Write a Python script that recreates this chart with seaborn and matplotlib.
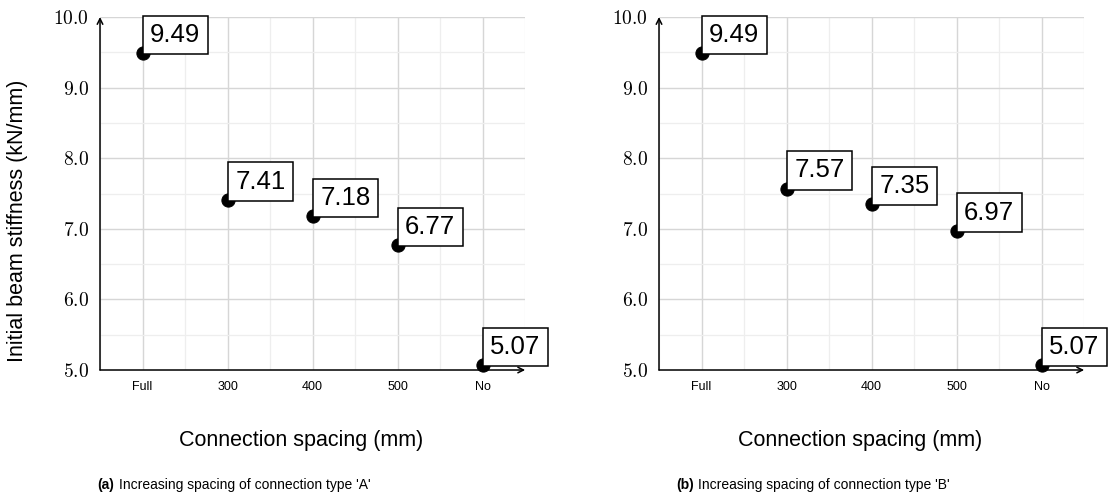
import matplotlib
matplotlib.use("Agg")
from matplotlib import pyplot as plt
from matplotlib.ticker import MultipleLocator, FixedLocator
import seaborn as sns
import pandas as pd

spacings = ["Full", "300", "400", "500", "No"]
stiffness_a = [9.49, 7.41, 7.18, 6.77, 5.07]
stiffness_b = [9.49, 7.57, 7.35, 6.97, 5.07]
captions = [("(a)", "Increasing spacing of connection type 'A'"),
            ("(b)", "Increasing spacing of connection type 'B'")]

sns.set_style("white")
plt.rcParams["font.family"] = ["Liberation Sans", "DejaVu Sans"]
plt.rcParams["mathtext.fontset"] = "cm"
plt.rcParams["text.color"] = "black"
plt.rcParams["xtick.labelcolor"] = "black"
plt.rcParams["ytick.labelcolor"] = "black"


def draw_panel(ax, values):
    df = pd.DataFrame({"spacing": spacings, "stiffness": values})
    sns.scatterplot(data=df, x="spacing", y="stiffness", ax=ax, color="black",
                    s=90, edgecolor="black", zorder=5, clip_on=False)
    ax.set_xlim(-0.5, len(spacings) - 0.5)
    ax.set_ylim(5.0, 10.0)

    ax.xaxis.set_major_locator(FixedLocator(range(len(spacings))))
    ax.set_xticklabels(spacings, fontsize=9)
    ax.xaxis.set_minor_locator(FixedLocator([i + 0.5 for i in range(-1, len(spacings))]))
    ax.yaxis.set_minor_locator(MultipleLocator(0.5))
    ax.set_yticks([5, 6, 7, 8, 9, 10])
    ax.set_yticklabels([f"${v:.1f}$" for v in [5, 6, 7, 8, 9, 10]], fontsize=14)

    ax.grid(which="major", color="#d6d6d6", linewidth=1.0)
    ax.grid(which="minor", color="#eeeeee", linewidth=0.9)
    ax.set_axisbelow(True)
    ax.tick_params(which="both", direction="inout", length=4, width=0.7,
                   color="#444444", pad=6)
    for side in ["top", "right", "left", "bottom"]:
        ax.spines[side].set_visible(False)

    # axis lines with arrow heads
    ax.annotate("", xy=(0, 1.0), xytext=(0, 0), xycoords="axes fraction",
                arrowprops=dict(arrowstyle="->", color="black", lw=1.1,
                                shrinkA=0, shrinkB=0))
    ax.annotate("", xy=(1.0, 0), xytext=(0, 0), xycoords="axes fraction",
                arrowprops=dict(arrowstyle="->", color="black", lw=1.1,
                                shrinkA=0, shrinkB=0))

    for i, v in enumerate(values):
        ax.annotate(f"{v:.2f}", xy=(i, v), xytext=(5.5, 4.5),
                    textcoords="offset points", ha="left", va="bottom",
                    fontsize=18.5, zorder=6, annotation_clip=False,
                    bbox=dict(boxstyle="square,pad=0.28", fc="white",
                              ec="black", lw=1.1))

    ax.set_xlabel("")
    ax.set_ylabel("")


fig = plt.figure(figsize=(11.1, 4.99), dpi=100)
ax_a = fig.add_axes([0.0901, 0.2585, 0.383, 0.7074])
ax_b = fig.add_axes([0.5937, 0.2585, 0.383, 0.7074])
draw_panel(ax_a, stiffness_a)
draw_panel(ax_b, stiffness_b)

fig.text(0.016, 0.557, "Initial beam stiffness (kN/mm)", rotation=90,
         ha="center", va="center", fontsize=15.5)
for xc in (0.271, 0.775):
    fig.text(xc, 0.118, "Connection spacing (mm)",
             ha="center", va="center", fontsize=15.5)

for x0, (tag, text) in zip([0.0874, 0.609], captions):
    fig.text(x0, 0.028, tag, ha="left", va="center",
             fontsize=10, fontweight="bold")
    fig.text(x0 + 0.0195, 0.028, text, ha="left", va="center",
             fontsize=10)

fig.savefig("out.png", dpi=100)
plt.close(fig)
